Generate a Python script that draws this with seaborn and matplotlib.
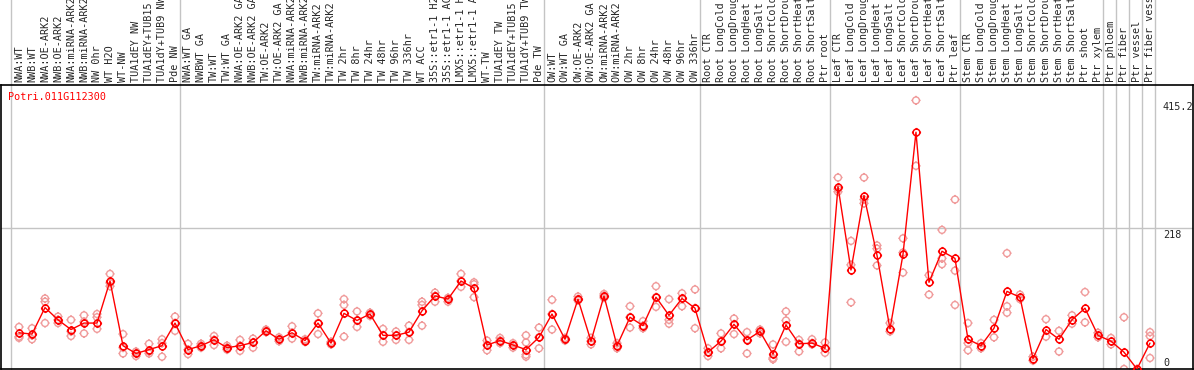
import matplotlib
matplotlib.use("Agg")
import matplotlib.pyplot as plt
from matplotlib.path import Path
import pandas as pd
import seaborn as sns

gene = "Potri.011G112300"

samples = [
    # nw
    "NWA:WT", "NWB:WT", "NWA:OE-ARK2", "NWB:OE-ARK2", "NWA:miRNA-ARK2",
    "NWB:miRNA-ARK2", "NW 0hr", "WT H2O", "WT-NW", "TUA1dEY NW",
    "TUA1dEY+TUB15 NW", "TUA1dY+TUB9 NW", "Pde NW",
    # tw
    "NWA:WT GA", "NWBWT GA", "TW:WT", "TW:WT GA", "NWA:OE-ARK2 GA",
    "NWB:OE-ARK2 GA", "TW:OE-ARK2", "TW:OE-ARK2 GA", "NWA:miRNA-ARK2 GA",
    "NWB:miRNA-ARK2 GA", "TW:miRNA-ARK2", "TW:miRNA-ARK2 GA", "TW 2hr",
    "TW 8hr", "TW 24hr", "TW 48hr", "TW 96hr", "TW 336hr", "WT ACC",
    "35S::etr1-1 H2O", "35S::etr1-1 ACC", "LMX5::etr1-1 H2O",
    "LMX5::etr1-1 ACC", "WT-TW", "TUA1dEY TW", "TUA1dEY+TUB15 TW",
    "TUA1dY+TUB9 TW", "Pde TW",
    # ow
    "OW:WT", "OW:WT GA", "OW:OE-ARK2", "OW:OE-ARK2 GA", "OW:miRNA-ARK2",
    "OW:miRNA-ARK2 GA", "OW 2hr", "OW 8hr", "OW 24hr", "OW 48hr", "OW 96hr",
    "OW 336hr",
    # root
    "Root CTR", "Root LongCold", "Root LongDrought", "Root LongHeat",
    "Root LongSalt", "Root ShortCold", "Root ShortDrought", "Root ShortHeat",
    "Root ShortSalt", "Ptr root",
    # leaf
    "Leaf CTR", "Leaf LongCold", "Leaf LongDrought", "Leaf LongHeat",
    "Leaf LongSalt", "Leaf ShortCold", "Leaf ShortDrought", "Leaf ShortHeat",
    "Leaf ShortSalt", "Ptr leaf",
    # stem
    "Stem CTR", "Stem LongCold", "Stem LongDrought", "Stem LongHeat",
    "Stem LongSalt", "Stem ShortCold", "Stem ShortDrought", "Stem ShortHeat",
    "Stem ShortSalt", "Ptr shoot", "Ptr xylem",
    "Ptr phloem", "Ptr fiber", "Ptr vessel", "Ptr fiber vessel",
]

means = [
    56, 54, 95, 76, 61, 71, 71, 136, 36, 24, 30, 36, 71,
    30, 36, 45, 33, 36, 41, 59, 46, 56, 44, 71, 40, 86, 75, 85, 52, 52, 57,
    90, 113, 108, 136, 125, 37, 44, 37, 30, 49,
    85, 46, 108, 43, 113, 36, 80, 67, 111, 83, 109, 94,
    26, 43, 69, 45, 58, 23, 68, 39, 40, 32,
    282, 153, 268, 176, 62, 177, 366, 134, 182, 171,
    46, 36, 63, 120, 111, 16, 61, 46, 76, 94, 52,
    43, 26, 0, 40,
]

reps = [
    [65, 50, 48], [63, 46, 52], [109, 104, 71], [81, 71, 76], [76, 51, 58],
    [83, 55, 73], [85, 80, 62], [147, 128, 133], [54, 24, 33], [27, 20, 24],
    [39, 24, 27], [46, 40, 19], [81, 59, 71],
    [39, 23, 30], [39, 33, 36], [51, 37, 45], [36, 30, 33], [45, 28, 36],
    [47, 33, 41], [61, 57, 59], [49, 43, 46], [66, 47, 56], [46, 42, 44],
    [86, 54, 71], [42, 38, 40], [108, 99, 50], [89, 65, 75], [87, 82, 85],
    [62, 42, 52], [58, 45, 52], [67, 45, 57], [104, 99, 67], [118, 104, 113],
    [110, 104, 108], [147, 127, 136], [134, 131, 111], [44, 29, 37],
    [48, 40, 44], [40, 33, 37], [52, 41, 22, 19], [64, 32, 49],
    [107, 61, 85], [48, 44, 46], [112, 106, 108], [48, 38, 43],
    [116, 110, 113], [40, 32, 36], [97, 64, 80], [74, 63, 67],
    [128, 96, 111], [108, 76, 70], [117, 97, 109], [123, 63, 94],
    [32, 20, 26], [55, 32, 43], [78, 54, 69], [57, 45, 24], [61, 55, 58],
    [38, 15, 17], [89, 75, 42], [45, 27, 39], [46, 38, 40], [41, 25, 32],
    [296, 274, 278], [198, 161, 103], [296, 256, 262], [191, 186, 160],
    [71, 58], [202, 180, 149], [415.2, 314], [145, 115], [215, 171, 162],
    [262, 152, 99],
    [71, 40, 29], [40, 32], [76, 49], [179, 97, 87], [115, 108], [19, 13],
    [77, 50], [59, 27], [83, 70], [119, 72], [56, 49],
    [48, 38], [80, 0], [0], [57, 51, 17],
]

# first sample index of each tissue block
group_starts = [0, 13, 41, 53, 63, 73, 84, 85, 86, 87, 88]
y_ticks = [0, 218, 415.2]

mean_df = pd.DataFrame({"pos": range(len(samples)), "value": means})
rep_df = pd.DataFrame(
    [(i, v) for i, vals in enumerate(reps) for v in vals], columns=["pos", "value"]
)

# ring with four little ticks, like the viewer's markers
ticks = []
for dx, dy in [(1, 0), (-1, 0), (0, 1), (0, -1)]:
    ticks.append(Path([[dx, dy], [dx * 1.35, dy * 1.35]], [Path.MOVETO, Path.LINETO]))
ring = Path.make_compound_path(Path.unit_circle(), *ticks)

sns.set_style("white")
plt.rcParams["font.family"] = ["DejaVu Sans Mono", "DejaVu Sans"]

W, H = 1194, 370
fig = plt.figure(figsize=(W / 100, H / 100), dpi=100)
ax = fig.add_axes([1 / W, 1 / H, 1192 / W, 284 / H])

sns.scatterplot(
    data=rep_df, x="pos", y="value", marker=ring, s=44, color="#f09a9a",
    facecolors="none", edgecolor="#f09a9a", linewidth=1.0, ax=ax, zorder=2,
)
sns.lineplot(
    data=mean_df, x="pos", y="value", color="red", lw=1, marker=ring,
    markersize=6.6, markerfacecolor="none", markeredgecolor="red",
    markeredgewidth=1.1, ax=ax, zorder=3,
)

ax.set_xlim(-1.385, 90.31)
ax.set_ylim(0, 439)

# group separators run up through the label strip
for g in group_starts:
    ax.axvline(g - 0.6, ymin=0, ymax=1.31, color="#c4c4c4", lw=1,
               clip_on=False, zorder=0)
ax.axhline(218, color="#c4c4c4", lw=1, zorder=0)

ax.xaxis.tick_top()
ax.set_xticks(range(len(samples)))
ax.set_xticklabels(samples, rotation=90, fontsize=7.3, va="bottom", ha="center")
ax.tick_params(axis="x", length=0, pad=2)
ax.set_yticks([])
ax.set_xlabel("")
ax.set_ylabel("")

for v in y_ticks:
    if v == 0:
        ax.text(88.0, v + 1, "0", fontsize=7.3, va="bottom", ha="left")
    else:
        ax.text(88.0, v - 3, str(v), fontsize=7.3, va="top", ha="left")

ax.text(0.006, 0.958, gene, transform=ax.transAxes, color="red",
        fontsize=7.3, va="center", ha="left")

for side in ["left", "right", "top", "bottom"]:
    ax.spines[side].set_visible(True)
    ax.spines[side].set_color("black")
    ax.spines[side].set_linewidth(1.2)

fig.savefig("out.png", dpi=100)
